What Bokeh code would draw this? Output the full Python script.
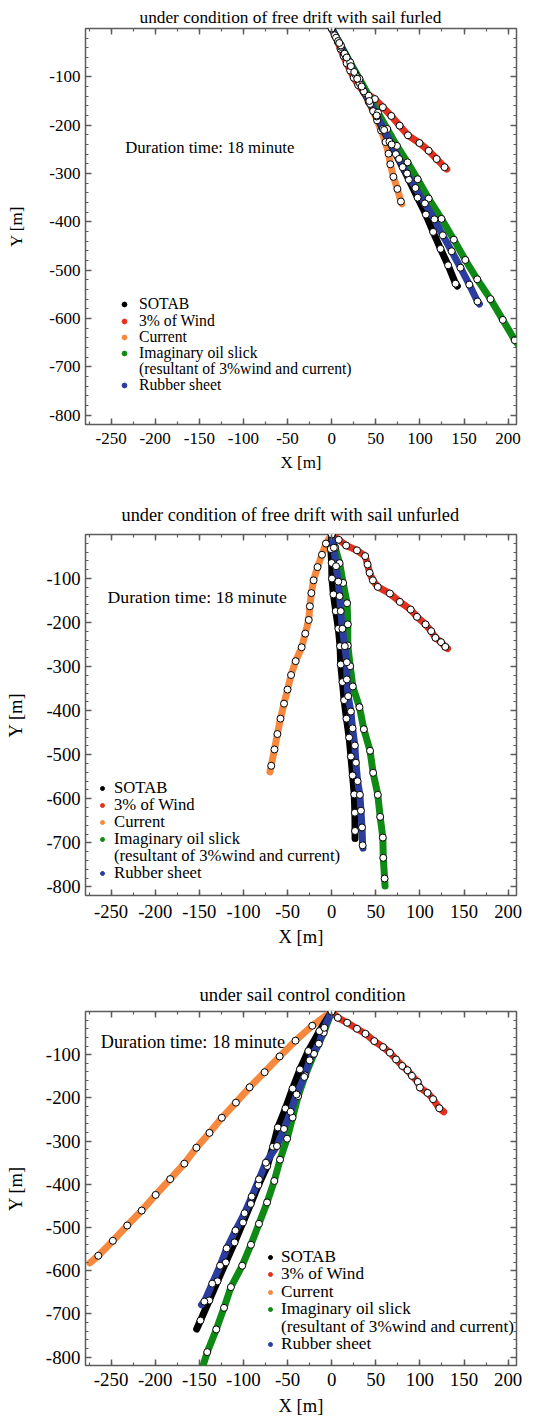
from bokeh.plotting import figure
from bokeh.models import (Range1d, LinearAxis, FixedTicker, Legend, LegendItem, Label, Title,
                          CustomJSTickFormatter)
from bokeh.layouts import column
from bokeh.embed import file_html
from bokeh.resources import INLINE

FONT = "Liberation Serif"

# ---------------- categories / labels ----------------
series_names = ["SOTAB", "3% of Wind", "Current", "Imaginary oil slick", "Rubber sheet"]
legend_note = "(resultant of 3%wind and current)"
series_colors = ["#000000", "#e3301f", "#f7893f", "#0f8a14", "#2b3d9f"]
panel_titles = ["under condition of free drift with sail furled",
                "under condition of free drift with sail unfurled",
                "under sail control condition"]
duration_text = "Duration time: 18 minute"
x_label = "X [m]"
y_label = "Y [m]"

x_major = [-250, -200, -150, -100, -50, 0, 50, 100, 150, 200]
x_major_labels = ["-250", "-200", "-150", "-100", "-50", "0", "50", "100", "150", "200"]
x_minor = [-275, -250, -225, -200, -175, -150, -125, -100, -75, -50, -25, 0,
           25, 50, 75, 100, 125, 150, 175, 200]
y_major = [-800, -700, -600, -500, -400, -300, -200, -100]
y_major_labels = ["-800", "-700", "-600", "-500", "-400", "-300", "-200", "-100"]
y_minor = list(range(-800, 1, 20))

# ---------------- panel 1 : sail furled (last point = end of track) ----------------
furled_sotab_x = [0, 7.3, 14.6, 21.8, 29, 36.4, 43.7, 51, 58, 65.5, 72.8, 80.4, 87.5, 97.4, 106.8, 115, 123.4, 132, 140.4, 142.5]
furled_sotab_y = [0, -26, -52, -78, -104, -130, -156, -182, -208, -234, -260, -287, -313, -350, -385, -421, -456, -490, -528, -533]
furled_wind_x = [0, 3.5, 7, 10, 13.5, 17, 21, 25, 30, 36, 49, 58, 67.6, 77, 86.5, 99.5, 110, 119, 128, 130.5]
furled_wind_y = [0, -14, -28, -42, -57, -72, -87, -102, -117, -130, -146, -163, -181, -201, -221, -237, -253, -270, -287, -291]
furled_current_x = [0, 5, 10.5, 16, 21.5, 27, 32, 37, 42, 47, 51.5, 56, 61, 64.5, 66.5, 70, 74.5, 78.5, 79.5]
furled_current_y = [0, -19, -38, -57, -76, -95, -114, -133, -152, -171, -190, -211, -235, -259, -281, -307, -332, -358, -363]
furled_slick_x = [0, 10.5, 21, 31.5, 42, 52.5, 63, 74, 86, 97.5, 110, 124.5, 138.5, 151.5, 165, 180, 194, 207.5, 216]
furled_slick_y = [0, -35, -70, -104, -139, -174, -208, -243, -277, -312, -352, -394, -437, -479, -519, -560, -603, -645, -665]
furled_rubber_x = [0, 8.6, 17, 25.6, 34, 42.7, 51, 59.5, 68, 76.5, 85.5, 95, 105.7, 116.5, 126, 136, 146, 156, 165.3, 167.5]
furled_rubber_y = [0, -30, -60, -90, -120, -150, -180, -210, -240, -270, -300, -330, -362, -395, -428, -461, -495, -530, -565, -570]

# ---------------- panel 2 : sail unfurled ----------------
unfurled_sotab_x = [0, -1, 0, 0.3, 2, 4.6, 7.6, 9.5, 10.3, 12.2, 14.1, 16.8, 19.8, 21.8, 23.7, 25.6, 26.3, 26.5, 26.5]
unfurled_sotab_y = [0, -33, -64.5, -100, -136, -174, -214, -253.5, -295, -335, -376, -418, -461, -504, -547, -590, -631.5, -673, -690]
unfurled_wind_x = [0, 8, 16.4, 28.7, 38, 40.7, 43, 46.7, 52.3, 66, 77.3, 89.6, 96.7, 106.4, 112.8, 117.6, 124, 128.8, 131.4]
unfurled_wind_y = [0, -12, -25, -36, -49, -68, -87, -104, -119, -134, -153, -170.5, -187, -204, -219.4, -234.5, -244.4, -255, -259]
unfurled_current_x = [0, -6.5, -11, -16, -20.5, -23, -24.7, -26, -29.9, -34, -40.8, -46, -50, -54, -58, -61.5, -64.8, -68.5, -70]
unfurled_current_y = [0, -20.6, -46, -74, -104, -133, -163, -194, -225, -256, -287.5, -319, -352, -384, -418, -453, -488, -525, -539]
unfurled_slick_x = [0, 4, 9, 13, 17.5, 18.3, 18.3, 21, 24, 31.5, 36.5, 43.5, 47, 52.3, 55, 58, 58.5, 60, 60.5]
unfurled_slick_y = [0, -30, -65, -110, -156, -204, -252, -299, -345, -392, -442, -491, -541, -591, -641, -688, -734, -781, -798]
unfurled_rubber_x = [0, 2.5, 5, 7.5, 9, 10.3, 12.2, 14.9, 17.2, 17.2, 18.7, 21.8, 23.7, 26.3, 27.5, 29.4, 32, 33.2, 34.4, 35.1, 35.5]
unfurled_rubber_y = [0, -30, -72, -107, -140, -174, -214, -253.5, -290, -329, -367, -402, -440, -479, -518, -560, -591, -627, -665, -705.6, -712]

# ---------------- panel 3 : sail control ----------------
control_sotab_x = [0, -13.9, -26.5, -36, -44.3, -52.4, -61, -66.5, -73, -83, -91.7, -100.5, -110, -120, -129.4, -138.7, -148.7, -153]
control_sotab_y = [0, -45.4, -91.5, -134, -178.5, -224.6, -268.5, -313, -357.7, -401.5, -445.4, -488.5, -534.6, -580.8, -624.6, -669, -715.4, -735]
control_wind_x = [0, 7, 17.6, 28.7, 38.3, 48.3, 58.3, 66, 73, 80, 86, 91, 97.6, 100, 108.7, 115, 122, 127]
control_wind_y = [0, -14.6, -26, -40, -51.5, -68.5, -82.3, -95.4, -111, -126, -136, -149, -163, -176, -188.5, -203, -224, -232]
control_current_x = [0, -22, -41, -59, -76, -93, -108.5, -124.5, -138.5, -153.3, -167, -183, -199.5, -215.3, -231.7, -248, -264.5, -274]
control_current_y = [0, -33, -67.5, -104, -140.5, -175.5, -211, -246, -281, -315.4, -352.3, -388, -424.6, -460.8, -495.4, -530.8, -565.4, -582]
control_slick_x = [0, -9, -20, -30, -38, -44.3, -50.5, -58.5, -65, -73.2, -82.4, -91.5, -101.4, -114.2, -122, -130.8, -141, -147]
control_slick_y = [0, -49, -98, -148, -196, -245.4, -294.5, -343, -392.3, -442, -491.5, -540, -588.5, -638, -686, -736, -788.5, -828]
control_rubber_x = [0, -8.3, -14.6, -25, -31, -39.8, -46.5, -54, -62, -74.6, -82.4, -90.6, -98.7, -109, -119, -126.5, -135.4, -144.3, -147.5]
control_rubber_y = [0, -37.7, -74.6, -113, -151.5, -192, -232, -272, -311.5, -350, -388.5, -428.5, -467, -507, -548.5, -588.5, -630, -671.5, -679]

panels = [
    [(furled_sotab_x, furled_sotab_y), (furled_wind_x, furled_wind_y), (furled_current_x, furled_current_y),
     (furled_slick_x, furled_slick_y), (furled_rubber_x, furled_rubber_y)],
    [(unfurled_sotab_x, unfurled_sotab_y), (unfurled_wind_x, unfurled_wind_y), (unfurled_current_x, unfurled_current_y),
     (unfurled_slick_x, unfurled_slick_y), (unfurled_rubber_x, unfurled_rubber_y)],
    [(control_sotab_x, control_sotab_y), (control_wind_x, control_wind_y), (control_current_x, control_current_y),
     (control_slick_x, control_slick_y), (control_rubber_x, control_rubber_y)],
]

# ---------------- layout / style settings per panel ----------------
# leg_rows: distance (px) of each legend row centre above the frame bottom
layout = [
    dict(h=474, mbt=28, mbb=50, mbl=83, mbr=21, title_fs=17.3, title_off=54, title_so=4,
         tick_fs=17, axis_fs=17, tick_so=8, ylab_so=20, xlab_so=6, leg_fs=15.7, leg_x=33,
         leg_rows=[120, 103.3, 87.3, 71.3, 55, 39], leg_gw=12,
         leg_ls=9, dot=6, dur_fs=16.7, dur_xy=(-234, -245.5)),
    dict(h=475, mbt=60, mbb=54, mbl=83, mbr=15, title_fs=18.3, title_off=36, title_so=20,
         tick_fs=18.6, axis_fs=18.6, tick_so=9, ylab_so=17, xlab_so=5, leg_fs=16.7, leg_x=12,
         leg_rows=[107, 90.3, 73.3, 56.3, 39.3, 22.3], leg_gw=10,
         leg_ls=7, dot=6.5, dur_fs=17.7, dur_xy=(-254, -142.3)),
    dict(h=469, mbt=62, mbb=53, mbl=85, mbr=14, title_fs=18.7, title_off=114, title_so=13,
         tick_fs=18.9, axis_fs=18.6, tick_so=7, ylab_so=17, xlab_so=6, leg_fs=17.2, leg_x=180,
         leg_rows=[108.5, 90.8, 73.3, 56, 38.5, 21], leg_gw=10,
         leg_ls=6, dot=7, dur_fs=18.2, dur_xy=(-261.7, -70.8)),
]
ITEM_H = 24

FRAME = "#5c5c5c"
draw_order = [1, 2, 3, 0, 4]


def style_axis(ax, ticks, minor, labels, fs, standoff, show_labels):
    ax.ticker = FixedTicker(ticks=ticks, minor_ticks=minor)
    ax.major_tick_in = 6
    ax.major_tick_out = 0
    ax.minor_tick_in = 3
    ax.minor_tick_out = 0
    ax.major_tick_line_color = FRAME
    ax.minor_tick_line_color = FRAME
    ax.major_tick_line_width = 1.5
    ax.minor_tick_line_width = 1.2
    ax.axis_line_color = None
    if show_labels:
        ax.formatter = CustomJSTickFormatter(
            args=dict(tick_values=ticks, tick_labels=labels),
            code="const i = tick_values.indexOf(tick); return i < 0 ? '' : tick_labels[i];")
        ax.major_label_text_font = FONT
        ax.major_label_text_font_size = f"{fs}px"
        ax.major_label_text_color = "black"
        ax.major_label_standoff = standoff
    else:
        ax.formatter = CustomJSTickFormatter(code="return '';")
        ax.major_label_text_font_size = "1px"
        ax.major_label_standoff = 0


figs = []
for k in range(3):
    L = layout[k]
    p = figure(width=537, height=L["h"], x_range=Range1d(-279, 209.5), y_range=Range1d(-819.5, 0),
               output_backend="svg", toolbar_location=None,
               min_border_top=L["mbt"], min_border_bottom=L["mbb"],
               min_border_left=L["mbl"], min_border_right=L["mbr"])
    p.grid.visible = False
    p.outline_line_color = FRAME
    p.outline_line_width = 1.5
    p.background_fill_color = "white"
    p.border_fill_color = "white"

    p.title = Title(text=panel_titles[k], align="left", offset=L["title_off"], standoff=L["title_so"],
                    text_font=FONT, text_font_size=f"{L['title_fs']}px", text_font_style="normal",
                    text_color="black")

    style_axis(p.xaxis[0], x_major, x_minor, x_major_labels, L["tick_fs"], L["tick_so"], True)
    style_axis(p.yaxis[0], y_major, y_minor, y_major_labels, L["tick_fs"], 5, True)
    p.xaxis[0].axis_label = x_label
    p.yaxis[0].axis_label = y_label
    for ax, so in ((p.xaxis[0], L["xlab_so"]), (p.yaxis[0], L["ylab_so"])):
        ax.axis_label_text_font = FONT
        ax.axis_label_text_font_size = f"{L['axis_fs']}px"
        ax.axis_label_text_font_style = "normal"
        ax.axis_label_text_color = "black"
        ax.axis_label_standoff = so

    top = LinearAxis()
    style_axis(top, x_major, x_minor, x_major_labels, 0, 0, False)
    p.add_layout(top, "above")
    right = LinearAxis()
    style_axis(right, y_major, y_minor, y_major_labels, 0, 0, False)
    p.add_layout(right, "right")

    tracks = panels[k]
    for i in draw_order:
        xs, ys = tracks[i]
        p.line(xs, ys, line_width=7, line_color=series_colors[i], line_join="round", line_cap="round")
    for i in draw_order:
        xs, ys = tracks[i]
        p.scatter(xs[:-1], ys[:-1], marker="circle", size=7, fill_color="white",
                  line_color="black", line_width=1)

    leg_renderers = []
    for i in range(5):
        xs, ys = tracks[i]
        r = p.scatter(xs[:1], ys[:1], marker="circle", size=L["dot"], fill_color=series_colors[i],
                      line_color=series_colors[i], visible=False)
        leg_renderers.append(r)
    note_r = p.scatter(tracks[3][0][:1], tracks[3][1][:1], marker="circle", size=1,
                       fill_alpha=0, line_alpha=0, visible=False)
    rows = [(series_names[0], leg_renderers[0]), (series_names[1], leg_renderers[1]),
            (series_names[2], leg_renderers[2]), (series_names[3], leg_renderers[3]),
            (legend_note, note_r), (series_names[4], leg_renderers[4])]
    for (lab, rend), dist in zip(rows, L["leg_rows"]):
        legend = Legend(items=[LegendItem(label=lab, renderers=[rend])],
                        location=(L["leg_x"], dist - ITEM_H / 2), orientation="vertical",
                        border_line_color=None, background_fill_alpha=0, padding=0, margin=0,
                        spacing=0, glyph_width=L["leg_gw"], glyph_height=ITEM_H, label_height=ITEM_H,
                        label_standoff=L["leg_ls"], label_text_font=FONT, label_text_color="black",
                        label_text_font_size=f"{L['leg_fs']}px", inactive_fill_alpha=0)
        p.add_layout(legend)

    dx, dy = L["dur_xy"]
    p.add_layout(Label(x=dx, y=dy, text=duration_text, text_font=FONT, text_font_size=f"{L['dur_fs']}px",
                       text_baseline="middle", text_align="left", text_color="black"))
    figs.append(p)

page = column(*figs, spacing=0)
open("out.html", "w").write(file_html(page, INLINE))
